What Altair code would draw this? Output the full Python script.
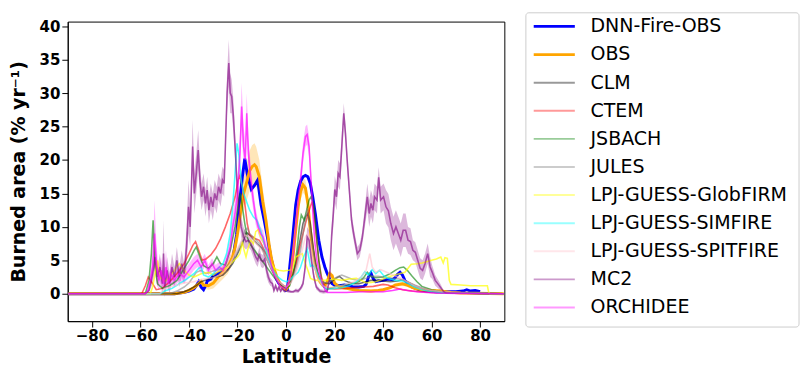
import altair as alt
import pandas as pd

NAMES = ["DNN-Fire-OBS", "OBS", "CLM", "CTEM", "JSBACH", "JULES",
         "LPJ-GUESS-GlobFIRM", "LPJ-GUESS-SIMFIRE", "LPJ-GUESS-SPITFIRE",
         "MC2", "ORCHIDEE"]
COLORS = ["#0000ff", "#ffa500", "#000000", "#ff0000", "#008000", "#808080",
          "#ffff00", "#00ffff", "#ffc0cb", "#800080", "#ff00ff"]
LINE_OPACITY = [1, 1, 0.55, 0.6, 0.6, 0.55, 0.7, 0.7, 0.6, 0.6, 0.65]
LEG_OPACITY = [1, 1, 0.4, 0.4, 0.4, 0.4, 0.4, 0.4, 0.4, 0.4, 0.4]
THICK = NAMES[:2]
MODELS = NAMES[2:]

X_TICKS = [-80, -60, -40, -20, 0, 20, 40, 60, 80]
Y_TICKS = [0, 5, 10, 15, 20, 25, 30, 35, 40]

# (latitude, burned area)
DNN = [(-89.75, 0), (-46, 0), (-44, 0.1), (-42, 0.2), (-40, 0.4), (-38, 0.7), (-37, 1.2),
       (-36, 1.8), (-35, 1.0), (-34, 0.6), (-33, 1.3), (-32.5, 1.9), (-31, 2.2), (-29.9, 2.75),
       (-28, 3.0), (-27.2, 3.2), (-26, 3.5), (-24.5, 3.7), (-23, 4.5), (-21.8, 5.5), (-20.4, 8.8),
       (-19.1, 13.8), (-18, 17.5), (-17, 20.2), (-16, 18), (-15, 16.5), (-14.3, 15.6), (-13, 16.2),
       (-11.7, 17), (-10.3, 13.3), (-9, 11), (-7.6, 8.3), (-6.3, 5.5), (-5, 3.5), (-4, 2.2),
       (-3, 1.6), (-2, 1.2), (-1, 0.8), (0, 0.5), (0.5, 0.6), (1.3, 3.2), (2.6, 7.8), (4, 13.3),
       (5, 15.5), (6, 16.8), (7, 17.5), (8, 17.7), (9, 17.5), (10, 16.5), (11, 14.5), (12.1, 11.9),
       (13.5, 8), (14.8, 5.5), (16, 4), (16.8, 3.2), (18.1, 2.1), (19, 1.5), (20, 1.3), (22, 1.2),
       (24, 1.3), (26, 1.2), (28, 1.0), (30, 1.0), (32, 1.1), (33, 1.4), (34, 2.5), (35, 3.1),
       (36, 2.2), (37, 1.8), (38, 1.9), (40, 2.0), (42, 2.2), (44, 2.1), (45, 2.4), (46, 2.9),
       (47, 3.2), (48, 2.8), (49, 2.0), (50, 1.6), (52, 1.0), (55, 0.6), (58, 0.4), (62, 0.3),
       (66, 0.3), (70, 0.3), (73, 0.4), (74.5, 0.6), (76, 0.4), (78, 0.5), (80, 0.3)]

# (latitude, burned area, spread)
OBS = [(-89.75, 0, 0), (-46, 0, 0), (-42, 0.2, 0.1), (-40, 0.5, 0.2), (-38, 0.9, 0.3), (-36, 1.5, 0.4),
       (-35, 1.8, 0.5), (-34, 1.3, 0.5), (-32, 1.2, 0.6), (-30, 1.6, 0.8), (-28, 2.5, 1.0),
       (-26, 3.2, 1.0), (-24, 4.0, 1.0), (-22, 5.5, 1.0), (-21, 7.0, 1.2), (-20, 9.0, 1.5),
       (-19, 11.5, 1.8), (-17.7, 14.7, 2.2), (-16, 17.0, 2.8), (-15, 18.4, 3.0), (-14, 19.0, 3.2),
       (-13, 19.3, 3.2), (-12.3, 19.0, 3.0), (-11, 17.5, 2.5), (-9.6, 13.8, 2.0), (-8.3, 11.0, 1.5),
       (-7, 7.4, 1.2), (-6, 5.2, 1.0), (-4.9, 3.7, 0.7), (-3.5, 2.2, 0.5), (-2, 1.2, 0.3),
       (-1, 0.8, 0.2), (0, 0.6, 0.2), (1, 1.2, 0.3), (2, 3.0, 0.5), (3, 6.0, 0.8), (4, 9.5, 1.0),
       (5, 13.0, 1.2), (6, 15.3, 1.2), (7, 16.3, 1.2), (8, 15.8, 1.2), (9, 13.5, 1.0), (10, 9.5, 0.8),
       (11, 6.5, 0.6), (12, 4.2, 0.5), (13, 2.7, 0.4), (14, 1.8, 0.3), (15, 1.3, 0.3), (16, 1.2, 0.3),
       (17, 1.8, 0.4), (18, 3.0, 0.5), (19, 2.7, 0.4), (20, 1.6, 0.3), (22, 1.0, 0.2), (25, 0.8, 0.2),
       (28, 0.6, 0.2), (30, 0.5, 0.2), (35, 0.4, 0.2), (38, 0.5, 0.2), (40, 0.6, 0.2), (43, 0.9, 0.2),
       (45, 1.3, 0.3), (48, 1.5, 0.3), (50, 1.3, 0.3), (53, 0.8, 0.2), (56, 0.6, 0.2), (60, 0.5, 0.1),
       (64, 0.4, 0.1), (68, 0.2, 0.1), (72, 0.1, 0), (89.75, 0, 0)]

CLM = [(-89.75, 0), (-45, 0), (-42, 0.3), (-40, 0.6), (-37, 1.2), (-35, 1.8), (-32, 2.2), (-30, 2.5),
       (-28, 2.6), (-26, 2.8), (-24, 3.5), (-22, 4.5), (-20, 6), (-18, 7.5), (-16.4, 9.2), (-15, 8.8),
       (-14, 8.3), (-12, 7.5), (-10, 6.8), (-8, 5.2), (-6, 3.6), (-4, 2.3), (-2, 1.3), (0, 0.9),
       (2, 1.8), (4, 4.5), (6, 8.5), (7, 10.5), (8, 11.5), (9, 12), (10, 10.5), (11, 7.5), (12, 5),
       (13, 3.2), (14, 2.2), (16, 1.6), (18, 1.5), (20, 2.2), (22, 2.6), (24, 2.0), (26, 1.7),
       (28, 1.5), (30, 1.5), (33, 1.8), (35, 2.0), (38, 2.0), (40, 1.9), (43, 1.8), (46, 1.9),
       (48, 2.1), (50, 1.8), (53, 1.2), (56, 0.8), (60, 0.4), (64, 0.2), (68, 0.1), (89.75, 0)]

CTEM = [(-89.75, 0), (-59.5, 0), (-58, 1.2), (-56.8, 2.5), (-55, 1.5), (-53.5, 0.6), (-51, 0.8),
        (-48, 1.8), (-45, 3), (-42, 4.5), (-40, 6), (-38.5, 7.2), (-37.3, 7.8), (-36, 6.5),
        (-34.6, 5), (-33, 5.2), (-31, 5.8), (-29, 6.8), (-27, 8.2), (-25, 10), (-23, 12),
        (-21, 14.5), (-19.7, 17), (-19, 17.7), (-18, 16), (-17, 13.5), (-16, 10.5), (-15, 8.8),
        (-13, 8.3), (-11, 8), (-10, 7.3), (-9, 6.5), (-7.6, 5.5), (-6, 4), (-5, 3), (-3, 1.8),
        (-1, 1.2), (0, 1.1), (1.5, 1.5), (3, 3), (4.5, 5), (6, 7.5), (8, 10.5), (10, 13),
        (10.8, 13.8), (11.5, 12), (12.6, 8), (13.5, 5), (14.6, 2.5), (16, 1.1), (18, 0.8),
        (20, 0.7), (24, 0.8), (28, 0.9), (32, 1.0), (36, 1.1), (40, 1.4), (42, 1.3), (45, 0.9),
        (48, 0.6), (52, 0.4), (56, 0.3), (60, 0.2), (66, 0.1), (89.75, 0)]

JSBACH = [(-89.75, 0), (-58, 0), (-56.5, 2), (-55.5, 6), (-54.8, 11), (-54, 4), (-53, 1.5),
          (-51, 0.8), (-48, 1.2), (-45, 2), (-42, 3.8), (-40, 5), (-38, 6.4), (-37, 7), (-36, 6),
          (-35, 5), (-34, 4.2), (-32, 3.8), (-30, 4.5), (-28.5, 5.5), (-27, 4.5), (-25, 4.3),
          (-23, 6.5), (-21, 10), (-19.5, 14), (-18.8, 15), (-18, 13), (-17, 10.5), (-16, 8.5),
          (-15, 7.5), (-13, 6.5), (-11, 5.5), (-9, 4.5), (-7, 3.5), (-5, 2.5), (-3, 1.6),
          (-1, 1.0), (0, 0.8), (1.5, 1.2), (3, 3), (4.5, 6.5), (5.5, 10), (6.3, 11.8), (7.5, 11),
          (8.5, 12.5), (9.5, 14), (10.5, 14.6), (11.5, 13), (12.5, 9), (13.5, 5), (14.5, 2.3),
          (15.5, 1.0), (17, 0.7), (19, 0.9), (22, 1.2), (26, 1.4), (30, 1.8), (32, 2.4),
          (33.5, 3.2), (35, 2.6), (37, 2.4), (40, 2.5), (43, 3.0), (45, 3.5), (47, 3.9),
          (48.5, 4.0), (50, 3.5), (52, 2.6), (54, 1.8), (56, 1.1), (60, 0.6), (64, 0.3),
          (68, 0.1), (89.75, 0)]

JULES = [(-89.75, 0), (-48, 0), (-45, 0.4), (-42, 1), (-40, 1.6), (-37, 3.2), (-35, 3.5), (-33, 3),
         (-30, 3.4), (-28, 3.6), (-26, 3.8), (-24, 4.2), (-22, 5), (-20, 6.5), (-18, 8), (-17, 9.5),
         (-16, 9.8), (-15, 9), (-13, 8.3), (-11, 7.5), (-9, 6.5), (-7, 5), (-5, 3), (-3, 1.8),
         (-1, 1.2), (0, 1), (2, 1.8), (4, 3.5), (6, 6.5), (7, 9), (8, 11), (8.8, 12.8), (9.5, 11),
         (10.5, 8), (12, 4.5), (13.5, 2.5), (15, 1.8), (17, 1.6), (19, 2.0), (21, 2.5), (23, 2.8),
         (25, 2.5), (27, 2.2), (30, 2.0), (33, 2.3), (35, 2.6), (38, 2.6), (40, 2.5), (44, 2.3),
         (47, 2.2), (50, 1.8), (53, 1.3), (56, 0.9), (60, 0.5), (64, 0.3), (70, 0.1), (89.75, 0)]

GLOBFIRM = [(-89.75, 0), (-56, 0), (-55, 1), (-54, 3), (-53, 5), (-52, 2.5), (-50, 1.8), (-48, 2.5),
            (-46, 3.5), (-44, 4.5), (-42, 3.5), (-40, 2.8), (-38, 2.5), (-35, 3), (-32, 3.2),
            (-30, 2.8), (-28, 3.3), (-26, 3.6), (-24, 4), (-22, 4.8), (-20, 5.5), (-19, 6),
            (-18, 7.8), (-17.3, 6.5), (-16.5, 5.5), (-15.5, 7), (-14.5, 8), (-13.5, 7.5),
            (-12.5, 9.3), (-11.5, 9.6), (-10.5, 8.5), (-9, 7.5), (-7.5, 6), (-6, 4.5), (-4.5, 3.7),
            (-3, 3.5), (-1, 3.4), (1, 3.5), (2.5, 3.6), (4, 5.5), (5.5, 5.8), (6.7, 6.0), (8, 4.5),
            (9, 3.5), (10.1, 2.3), (12, 2.0), (14, 2.0), (16, 2.0), (18, 2.1), (20, 2.2), (23, 2.0),
            (26, 2.2), (29, 2.3), (31, 2.0), (33, 1.6), (35, 1.7), (37, 1.8), (40, 2.2), (43, 2.6),
            (46, 2.9), (49, 3.2), (51.6, 4.4), (54, 4.5), (56, 4.6), (58, 4.8), (60, 5.0), (62, 5.2),
            (63.8, 5.5), (64.8, 4.6), (65.5, 5.4), (66.5, 5.3), (67.3, 2.0), (68, 1.4), (72, 1.3),
            (76, 1.2), (80, 1.2), (83, 1.2), (83.5, 0.3), (84, 0), (89.75, 0)]

SIMFIRE = [(-89.75, 0), (-52, 0), (-50, 0.4), (-47, 0.8), (-44, 1.5), (-41, 2.2), (-38, 3), (-36, 3.8),
           (-35, 4), (-34, 2.8), (-32, 2.5), (-30, 3), (-28, 3.8), (-26, 4.5), (-24.5, 6), (-23, 9),
           (-22, 13), (-21, 18), (-20.2, 22.5), (-19.5, 21), (-18.5, 17), (-17.5, 15), (-16.5, 14),
           (-15, 12.5), (-13.5, 11.5), (-12, 11), (-10.5, 9.5), (-9, 7.5), (-7.5, 5.5), (-6, 4),
           (-4.5, 3), (-3, 2.4), (-1.5, 2), (0, 1.8), (1.5, 2), (3, 2.6), (5, 3.2), (6, 4),
           (7.3, 5.5), (8.7, 6.7), (10.1, 4.1), (11, 4.3), (12, 3.8), (13.5, 2.5), (15, 1.3),
           (16.5, 0.8), (18, 0.7), (20, 0.8), (23, 0.9), (26, 1.2), (29, 1.8), (31, 2.5),
           (32.5, 3.3), (34, 2.8), (35.5, 3.6), (37, 3.0), (38.5, 3.5), (40, 2.8), (42, 2.3),
           (45, 2.0), (48, 1.9), (50, 1.6), (53, 1.0), (56, 0.6), (60, 0.3), (65, 0.1), (89.75, 0)]

SPITFIRE = [(-89.75, 0), (-52, 0), (-50, 0.8), (-46, 1.2), (-42, 1.6), (-38, 1.8), (-34, 2.2), (-30, 2.4),
            (-27, 2.8), (-25, 3.5), (-23, 4.5), (-21, 6), (-19, 7.5), (-17, 8.8), (-15, 8.5), (-13, 7.8),
            (-11, 7), (-9, 6), (-7, 4.5), (-5, 3), (-3, 1.8), (-1, 1.2), (0, 1), (2, 1.6), (4, 3),
            (6, 5.5), (8, 8.5), (9, 9), (10, 7.5), (11.5, 4.5), (13, 2.3), (15, 1.2), (17, 0.9),
            (20, 1.0), (24, 1.3), (28, 1.8), (31, 2.5), (33, 3.5), (34.5, 6), (35.5, 4), (37, 3.2),
            (39, 3.6), (41, 3.3), (44, 2.8), (47, 2.4), (50, 1.8), (53, 1.2), (56, 0.8), (60, 0.5),
            (65, 0.3), (70, 0.2), (75, 0.1), (89.75, 0)]

MC2 = [(-89.75, 0, 0), (-58, 0, 0), (-56.5, 0.5, 0.3), (-55, 3, 1.5), (-54, 5.5, 2), (-53, 2.5, 1.5),
       (-52, 4, 2), (-51, 1.5, 1.5), (-50.5, 6, 5), (-50, 1.0, 1.5), (-49, 3.5, 2), (-48, 1.5, 1.5),
       (-47, 4, 2), (-46, 2.5, 1.5), (-45, 5, 2), (-44, 2.5, 1.5), (-43, 4.5, 2), (-42, 3, 1.5),
       (-41, 7, 3), (-40.2, 13, 4), (-39.5, 10, 3), (-38.5, 22, 4), (-37.8, 15, 3), (-37, 18, 3),
       (-36.2, 21.5, 3), (-35.5, 17, 2.5), (-34.8, 14.5, 2), (-34, 16, 2), (-33.2, 13.5, 2),
       (-32.5, 15.5, 2), (-31.8, 12.5, 2), (-31, 14.5, 2), (-30.2, 13, 2), (-29.4, 15, 2),
       (-28.6, 14, 2), (-27.8, 16, 2), (-27, 15, 2), (-26.2, 17, 2), (-25.5, 16.5, 2), (-25, 22, 2.5),
       (-24.3, 30, 3), (-23.6, 34.5, 3.5), (-23, 30, 3), (-22.4, 29.5, 2.5), (-21.7, 26.5, 2.5),
       (-21, 22, 2), (-20.3, 17, 2), (-19.5, 13, 1.5), (-18.5, 10, 1.5), (-17.5, 8.5, 1.5),
       (-16.5, 7.8, 1.2), (-15.5, 8, 1), (-14.5, 7.5, 1), (-13.5, 6.5, 1), (-12.5, 5.5, 1),
       (-11.7, 5, 1), (-11, 6, 1), (-10.3, 5, 1), (-9.5, 4.8, 1), (-8.8, 5.2, 1), (-8, 3.5, 1),
       (-7.3, 2.5, 0.8), (-6.5, 1.8, 0.6), (-5.6, 1.5, 0.5), (-5, 0.5, 0.4), (-4.3, 1.2, 0.4),
       (-3.6, 0.5, 0.4), (-2.9, 1, 0.4), (-2.2, 0.4, 0.3), (-1.5, 0.8, 0.3), (-0.7, 0.4, 0.3),
       (0, 0.6, 0.3), (1, 0.4, 0.3), (2, 0.3, 0.2), (3, 0.3, 0.2), (4, 0.5, 0.3), (5, 0.4, 0.3),
       (6, 0.8, 0.3), (7, 1.5, 0.5), (7.9, 4, 1), (8.7, 8.5, 1.5), (9.5, 8, 1.5), (10.5, 5, 1),
       (11.5, 2.5, 0.6), (12.5, 1.0, 0.4), (14, 0.4, 0.3), (15.5, 0.3, 0.3), (17, 0.4, 0.3),
       (18, 2.5, 1), (18.8, 8.7, 1.5), (19.5, 12, 2), (20.1, 15.6, 2), (20.8, 14.5, 2), (21.5, 18, 2),
       (22.2, 17.5, 2), (23, 22, 2), (23.8, 27, 1.5), (24.5, 24, 1.5), (25.2, 20, 1.5), (26, 16, 1.5),
       (27, 11, 1.2), (28, 8.7, 1), (29.4, 6, 1), (30.4, 6.5, 1), (31.4, 8.3, 1), (32.5, 11.5, 1.5),
       (33.5, 14.5, 2), (34.3, 12, 2), (35, 13.5, 2), (35.8, 12.5, 2), (36.5, 14.5, 2), (37.5, 14, 2),
       (38.2, 17.4, 1.5), (39, 14, 2), (40.2, 14.5, 2), (41.2, 13, 2.5), (42.2, 12.4, 2.5),
       (43.2, 10.5, 2.5), (44.3, 9, 2.5), (45.3, 10, 2.5), (46.3, 9, 2.5), (47.3, 8, 2.5),
       (48.3, 9.5, 2.5), (49.3, 9.5, 2.5), (50.3, 8, 2), (51.3, 7.8, 2), (52.3, 6.5, 1.5),
       (53.3, 6.2, 1.5), (54.3, 5, 1.5), (55.3, 3.8, 1.5), (56.3, 3.5, 1.5), (57.3, 4.5, 1.5),
       (58.4, 6, 1.5), (59.4, 4, 1.5), (60.3, 3.2, 1), (61.5, 2, 0.8), (62.8, 1.4, 0.6),
       (63.8, 0.9, 0.5), (65, 0.3, 0.2), (66, 0.1, 0.1), (89.75, 0, 0)]

ORCHIDEE = [(-89.75, 0, 0), (-58, 0, 0), (-57, 0.5, 0.3), (-56, 2, 1), (-55, 4, 2), (-54.2, 9, 5),
            (-53.5, 5, 3), (-52.5, 2, 1.5), (-51.5, 3.5, 2), (-50.5, 1.5, 1), (-49.5, 4, 2.5),
            (-48.5, 1.5, 1), (-47.5, 3, 1.5), (-46, 2, 1), (-44, 3, 1), (-42, 2.5, 1), (-40, 3.5, 1),
            (-38, 4.5, 1), (-36.5, 5, 1), (-35, 4, 1), (-33.5, 5, 1), (-32, 3.5, 0.8), (-30.5, 4.5, 0.8),
            (-29, 3.5, 0.8), (-27.5, 4, 0.8), (-26, 3.5, 0.8), (-24.5, 5, 1), (-23, 7, 1.5),
            (-22, 10, 2), (-21, 12, 2), (-20, 15, 2.5), (-19, 21, 3), (-18.3, 28, 3.5), (-17.5, 22, 3),
            (-16.8, 20, 3), (-16.2, 27, 3), (-15.5, 21, 2.5), (-14.5, 17, 2), (-13.5, 14, 1.5),
            (-12.5, 11.5, 1.2), (-11.5, 10, 1), (-10.5, 9, 1), (-9.5, 8.5, 1), (-8.5, 7, 1),
            (-7.5, 6.5, 0.8), (-6.5, 5, 0.6), (-5.5, 3.5, 0.5), (-4.5, 2.5, 0.4), (-3.5, 1.8, 0.3),
            (-2.5, 1.2, 0.3), (-1.2, 0.9, 0.3), (0, 0.8, 0.3), (1, 1.5, 0.3), (2, 3, 0.5), (3, 6, 1),
            (4, 10, 1), (5, 14, 1.5), (6, 17, 1.5), (7, 21, 1.5), (8, 23.5, 1.5), (8.7, 23.8, 1.5),
            (9.5, 22, 1.5), (10.3, 17, 1.5), (11, 12.5, 1), (11.8, 8, 0.8), (12.7, 5, 0.5),
            (13.8, 3, 0.4), (15, 1.5, 0.3), (16.2, 0.5, 0.2), (17, 0.2, 0.1), (20, 0.2, 0.1),
            (25, 0.2, 0.1), (30, 0.3, 0.1), (35, 0.3, 0.1), (40, 0.3, 0.1), (44, 0.5, 0.1),
            (47, 0.7, 0.1), (50, 0.5, 0.1), (54, 0.3, 0.1), (58, 0.2, 0.1), (62, 0.1, 0.1),
            (70, 0.05, 0), (89.75, 0, 0)]

SERIES = [DNN, OBS, CLM, CTEM, JSBACH, JULES, GLOBFIRM, SIMFIRE, SPITFIRE, MC2, ORCHIDEE]


def rgba(hex_color, alpha):
    r, g, b = (int(hex_color[i:i + 2], 16) for i in (1, 3, 5))
    return f"rgba({r},{g},{b},{alpha})"


LINE_RGBA = [rgba(c, a) for c, a in zip(COLORS, LINE_OPACITY)]
LEG_RGBA = [rgba(c, a) for c, a in zip(COLORS, LEG_OPACITY)]

rows = []
band_rows = []
for order, (name, pts) in enumerate(zip(NAMES, SERIES)):
    for p in pts:
        rows.append({"series": name, "k": order, "lat": p[0], "v": p[1]})
        if len(p) == 3:
            band_rows.append({"series": name, "lat": p[0],
                              "lo": p[1] - p[2], "hi": p[1] + p[2]})
df = pd.DataFrame(rows)
band_df = pd.DataFrame(band_rows)
legend_df = pd.DataFrame({"series": NAMES, "row": list(range(len(NAMES)))})
box_df = pd.DataFrame({"k": [0]})

FONT = "DejaVu Sans"
W, H = 446, 306
XDOM = [-90, 90]
YDOM = [-4.1, 40.7]

xaxis = alt.Axis(values=X_TICKS, title="Latitude", titlePadding=4)
xscale = alt.Scale(domain=XDOM, nice=False, zero=False)
yscale = alt.Scale(domain=YDOM, nice=False, zero=False)

bands = alt.Chart(band_df).mark_area(opacity=0.28).encode(
    x=alt.X("lat:Q", scale=xscale, axis=xaxis),
    y=alt.Y("lo:Q", scale=yscale,
            axis=alt.Axis(values=Y_TICKS, title="Burned area (% yr\u207b\u00b9)", orient="left",
                          titlePadding=11)),
    y2="hi:Q",
    color=alt.Color("series:N", scale=alt.Scale(domain=NAMES, range=COLORS), legend=None),
    detail="series:N",
)

line_color = alt.Color("series:N", scale=alt.Scale(domain=NAMES, range=LINE_RGBA), legend=None)

lines_thick = alt.Chart(df).transform_filter(
    alt.FieldOneOfPredicate(field="series", oneOf=THICK)
).mark_line(strokeWidth=3).encode(
    x=alt.X("lat:Q", scale=xscale, axis=xaxis),
    y=alt.Y("v:Q", scale=yscale, axis=None),
    color=line_color,
    detail="k:O",
)

lines_thin = alt.Chart(df).transform_filter(
    alt.FieldOneOfPredicate(field="series", oneOf=MODELS)
).mark_line(strokeWidth=1.6).encode(
    x=alt.X("lat:Q", scale=xscale, axis=xaxis),
    y=alt.Y("v:Q", scale=yscale, axis=None),
    color=line_color,
    detail="k:O",
)

# legend (positions relative to the plot origin)
row_scale = alt.Scale(domain=[0, 10], range=[5, 292])
leg_color = alt.Color("series:N", scale=alt.Scale(domain=NAMES, range=LEG_RGBA), legend=None)

box = alt.Chart(box_df).mark_rect(fill="white", stroke="#cccccc", strokeWidth=1, cornerRadius=3).encode(
    x=alt.value(468), x2=alt.value(747), y=alt.value(-9), y2=alt.value(312))

leg_thick = alt.Chart(legend_df).transform_filter(
    alt.FieldOneOfPredicate(field="series", oneOf=THICK)
).mark_rule(strokeWidth=2.8).encode(
    x=alt.value(476), x2=alt.value(518),
    y=alt.Y("row:Q", scale=row_scale, axis=None),
    color=leg_color,
)
leg_thin = alt.Chart(legend_df).transform_filter(
    alt.FieldOneOfPredicate(field="series", oneOf=MODELS)
).mark_rule(strokeWidth=2).encode(
    x=alt.value(476), x2=alt.value(518),
    y=alt.Y("row:Q", scale=row_scale, axis=None),
    color=leg_color,
)
leg_text = alt.Chart(legend_df).mark_text(align="left", baseline="middle", font=FONT,
                                          fontSize=19.4, color="black").encode(
    x=alt.value(534),
    y=alt.Y("row:Q", scale=row_scale, axis=None),
    text="series:N",
)

legend_layer = alt.layer(box, leg_thick, leg_thin, leg_text)

chart = alt.layer(bands, lines_thick, lines_thin, legend_layer).resolve_scale(
    y="independent", color="independent"
).properties(
    width=W, height=H, padding={"left": 0, "top": 0, "right": 0, "bottom": 0}
).configure_view(
    stroke="black", strokeWidth=1
).configure_axis(
    labelFont=FONT, labelFontWeight="bold", labelFontSize=15.3, labelColor="black",
    titleFont=FONT, titleFontWeight="bold", titleFontSize=19.4, titleColor="black",
    tickColor="black", domainColor="black", grid=False, tickSize=6, labelPadding=2,
)

chart.save("out.html", embed_options={"renderer": "svg", "actions": False})
